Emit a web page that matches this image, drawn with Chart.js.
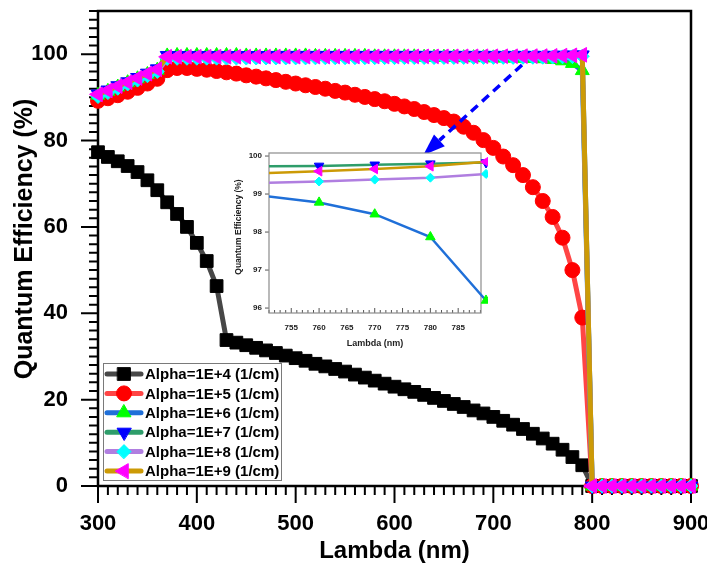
<!DOCTYPE html>
<html>
<head>
<meta charset="utf-8">
<script src="https://cdn.jsdelivr.net/npm/chart.js@4.4.0/dist/chart.umd.min.js"></script>
<style>
  html, body { margin: 0; padding: 0; background: #fff; }
  #wrap { position: relative; width: 707px; height: 567px; }
  #main { position: absolute; left: 0; top: 0; }
  #inset { position: absolute; left: 230px; top: 140px; }
</style>
</head>
<body>
<div id="wrap">
  <canvas id="main" width="707" height="567" style="width:707px;height:567px"></canvas>
  <canvas id="inset" width="270" height="222" style="width:270px;height:222px"></canvas>
</div>
<script>
// wavelength (nm)
const lambda = [300, 310, 320, 330, 340, 350, 360, 370, 380, 390,
                400, 410, 420, 430, 440, 450, 460, 470, 480, 490,
                500, 510, 520, 530, 540, 550, 560, 570, 580, 590,
                600, 610, 620, 630, 640, 650, 660, 670, 680, 690,
                700, 710, 720, 730, 740, 750, 760, 770, 780, 790,
                800, 810, 820, 830, 840, 850, 860, 870, 880, 890, 900];

// quantum efficiency (%) for each absorption coefficient
const qe1e4 = [77.3, 76.2, 75.2, 74.1, 72.7, 70.8, 68.5, 65.7, 63.0, 60.0,
               56.3, 52.1, 46.3, 33.8, 33.2, 32.6, 32.0, 31.4, 30.8, 30.2,
               29.6, 29.0, 28.3, 27.7, 27.1, 26.5, 25.8, 25.1, 24.4, 23.7,
               23.0, 22.4, 21.8, 21.1, 20.4, 19.7, 19.0, 18.3, 17.5, 16.8,
               16.0, 15.1, 14.2, 13.2, 12.1, 11.0, 9.8, 8.4, 6.7, 4.8,
               0, 0, 0, 0, 0, 0, 0, 0, 0, 0, 0];
const qe1e5 = [89.2, 89.8, 90.5, 91.3, 92.2, 93.2, 94.3, 96.3, 96.8, 96.8,
               96.6, 96.4, 96.1, 95.8, 95.5, 95.1, 94.8, 94.4, 94.0, 93.6,
               93.2, 92.8, 92.4, 92.0, 91.5, 91.1, 90.6, 90.1, 89.6, 89.1,
               88.5, 87.9, 87.3, 86.6, 85.9, 85.2, 84.4, 83.2, 81.8, 80.1,
               78.3, 76.3, 74.3, 72.0, 69.2, 66.0, 62.3, 57.5, 50.0, 39.0,
               0, 0, 0, 0, 0, 0, 0, 0, 0, 0, 0];
const qe1e6 = [90.5, 91.4, 92.4, 93.4, 94.3, 95.3, 96.3, 99.6, 99.7, 99.7,
               99.7, 99.7, 99.7, 99.7, 99.7, 99.6, 99.6, 99.6, 99.6, 99.6,
               99.6, 99.6, 99.5, 99.5, 99.5, 99.5, 99.5, 99.5, 99.4, 99.4,
               99.4, 99.4, 99.4, 99.3, 99.3, 99.3, 99.3, 99.2, 99.2, 99.2,
               99.15, 99.1, 99.1, 99.05, 99.0, 98.95, 98.78, 98.47, 97.87, 96.2,
               0, 0, 0, 0, 0, 0, 0, 0, 0, 0, 0];
const qe1e7 = [90.8, 91.7, 92.7, 93.6, 94.6, 95.6, 96.6, 99.7, 99.70, 99.70,
               99.70, 99.70, 99.70, 99.70, 99.70, 99.70, 99.70, 99.70, 99.71, 99.71,
               99.71, 99.71, 99.71, 99.71, 99.71, 99.71, 99.71, 99.71, 99.72, 99.72,
               99.72, 99.72, 99.72, 99.72, 99.72, 99.72, 99.72, 99.72, 99.72, 99.72,
               99.72, 99.72, 99.72, 99.73, 99.73, 99.73, 99.74, 99.77, 99.80, 99.83,
               0, 0, 0, 0, 0, 0, 0, 0, 0, 0, 0];
const qe1e8 = [90.2, 91.1, 92.1, 93.1, 94.0, 95.0, 96.0, 99.0, 99.05, 99.06,
               99.07, 99.08, 99.08, 99.09, 99.10, 99.10, 99.11, 99.12, 99.12, 99.13,
               99.14, 99.14, 99.15, 99.16, 99.16, 99.17, 99.18, 99.18, 99.19, 99.20,
               99.20, 99.21, 99.21, 99.22, 99.22, 99.23, 99.23, 99.24, 99.24, 99.25,
               99.25, 99.26, 99.26, 99.27, 99.28, 99.29, 99.33, 99.38, 99.43, 99.53,
               0, 0, 0, 0, 0, 0, 0, 0, 0, 0, 0];
const qe1e9 = [90.7, 91.6, 92.6, 93.5, 94.5, 95.5, 96.5, 99.4, 99.40, 99.40,
               99.41, 99.41, 99.42, 99.42, 99.42, 99.43, 99.43, 99.43, 99.44, 99.44,
               99.44, 99.45, 99.45, 99.45, 99.46, 99.46, 99.46, 99.47, 99.47, 99.47,
               99.48, 99.48, 99.48, 99.49, 99.49, 99.49, 99.50, 99.50, 99.50, 99.51,
               99.51, 99.52, 99.52, 99.53, 99.54, 99.55, 99.60, 99.66, 99.73, 99.85,
               0, 0, 0, 0, 0, 0, 0, 0, 0, 0, 0];

const seriesLabels = ['Alpha=1E+4 (1/cm)', 'Alpha=1E+5 (1/cm)', 'Alpha=1E+6 (1/cm)',
                      'Alpha=1E+7 (1/cm)', 'Alpha=1E+8 (1/cm)', 'Alpha=1E+9 (1/cm)'];
const seriesValues = [qe1e4, qe1e5, qe1e6, qe1e7, qe1e8, qe1e9];

// tick labels
const xTicks = [300, 400, 500, 600, 700, 800, 900];
const yTicks = [0, 20, 40, 60, 80, 100];
const insetXTicks = [755, 760, 765, 770, 775, 780, 785];
const insetYTicks = [96, 97, 98, 99, 100];

// inset shows the 1E+6 .. 1E+9 curves from 750 to 790 nm
const insetFrom = lambda.indexOf(750);
const insetTo = lambda.indexOf(790);
const insetSeries = [2, 3, 4, 5];

// arrow from the plateau to the inset (data units of the main plot)
const arrowFrom = [729, 97.5];
const arrowTo = [629, 76.6];

// styles
const FONT = "'Liberation Sans', Arial, Helvetica, sans-serif";
const lineColors = ['#474747', '#ff4545', '#1f6fd8', '#2e9d6a', '#b07ee0', '#cc9a06'];
const markerColors = ['#000000', '#ff0000', '#00ff00', '#0000ff', '#00ffff', '#ff00ff'];
const markerStyles = ['rect', 'circle', 'triangle', 'triangle', 'rectRot', 'triangle'];
const markerRotations = [0, 0, 0, 180, 0, 270];
const mainRadius = [9, 7.5, 8, 8, 7, 8.5];
const insetRadius = [0, 0, 5.5, 5.5, 4.5, 5.5];

function isTick(list, v) {
    return list.some(function(t) { return Math.abs(t - v) < 1e-6; });
}

// frame + hand drawn major/minor ticks
function framePlugin(id, cfg) {
    return {
        id: id,
        beforeDatasetsDraw: function(chart) {
            var ctx = chart.ctx, a = chart.chartArea;
            var x = chart.scales.x, y = chart.scales.y;
            ctx.save();
            if (cfg.fill) {
                ctx.fillStyle = cfg.fill;
                ctx.fillRect(a.left, a.top, a.right - a.left, a.bottom - a.top);
            }
            ctx.strokeStyle = cfg.color;
            ctx.lineWidth = cfg.tickWidth;
            ctx.beginPath();
            var k, v, p, len;
            for (k = Math.ceil(x.min / cfg.xMinor - 1e-9); k <= Math.floor(x.max / cfg.xMinor + 1e-9); k++) {
                v = k * cfg.xMinor;
                p = x.getPixelForValue(v);
                len = isTick(cfg.xMajor, v) ? cfg.xMajorLen : cfg.xMinorLen;
                ctx.moveTo(p, a.bottom);
                ctx.lineTo(p, a.bottom + (cfg.xOut ? len : -len));
            }
            for (k = Math.ceil(y.min / cfg.yMinor - 1e-9); k <= Math.floor(y.max / cfg.yMinor + 1e-9); k++) {
                v = k * cfg.yMinor;
                p = y.getPixelForValue(v);
                len = isTick(cfg.yMajor, v) ? cfg.yMajorLen : cfg.yMinorLen;
                ctx.moveTo(a.left, p);
                ctx.lineTo(a.left - len, p);
            }
            ctx.stroke();
            ctx.lineWidth = cfg.frameWidth;
            ctx.strokeStyle = cfg.frameColor;
            ctx.strokeRect(a.left, a.top, a.right - a.left, a.bottom - a.top);
            ctx.restore();
        },
        afterDraw: function(chart) {
            // rotated y title, placed like the original (a bit above the axis centre)
            var ctx = chart.ctx;
            ctx.save();
            ctx.translate(cfg.yTitle.x, cfg.yTitle.y);
            ctx.rotate(-Math.PI / 2);
            ctx.fillStyle = cfg.yTitle.color;
            ctx.font = cfg.yTitle.font;
            ctx.textAlign = 'center';
            ctx.textBaseline = 'middle';
            ctx.fillText(cfg.yTitle.text, 0, 0);
            ctx.restore();
        }
    };
}

function drawMarker(ctx, i, radius, px, py) {
    ctx.fillStyle = markerColors[i];
    ctx.strokeStyle = markerColors[i];
    ctx.lineWidth = 1;
    Chart.helpers.drawPoint(ctx, {
        pointStyle: markerStyles[i],
        rotation: markerRotations[i],
        radius: radius,
        borderWidth: 1
    }, px, py);
}

const legendPlugin = {
    id: 'qeLegend',
    afterDraw: function(chart) {
        var ctx = chart.ctx;
        var left = 103, top = 363, w = 178, h = 117;
        ctx.save();
        ctx.fillStyle = '#fff';
        ctx.fillRect(left, top, w, h);
        ctx.strokeStyle = '#7a7a7a';
        ctx.lineWidth = 1;
        ctx.strokeRect(left + 0.5, top + 0.5, w, h);
        for (var i = 0; i < seriesLabels.length; i++) {
            var yy = top + 11 + i * 19.4;
            ctx.strokeStyle = lineColors[i];
            ctx.lineWidth = 5;
            ctx.lineCap = 'round';
            ctx.beginPath();
            ctx.moveTo(left + 4, yy);
            ctx.lineTo(left + 38, yy);
            ctx.stroke();
            drawMarker(ctx, i, mainRadius[i], left + 21, yy);
            ctx.fillStyle = '#000';
            ctx.font = 'bold 15px ' + FONT;
            ctx.textAlign = 'left';
            ctx.textBaseline = 'middle';
            ctx.fillText(seriesLabels[i], left + 42, yy + 1);
        }
        ctx.restore();
    }
};

const arrowPlugin = {
    id: 'qeArrow',
    afterDatasetsDraw: function(chart) {
        var ctx = chart.ctx, x = chart.scales.x, y = chart.scales.y;
        var x0 = x.getPixelForValue(arrowFrom[0]), y0 = y.getPixelForValue(arrowFrom[1]);
        var x1 = x.getPixelForValue(arrowTo[0]), y1 = y.getPixelForValue(arrowTo[1]);
        var dx = x1 - x0, dy = y1 - y0, d = Math.sqrt(dx * dx + dy * dy);
        var ux = dx / d, uy = dy / d, head = 22, half = 8;
        ctx.save();
        ctx.strokeStyle = '#0000ff';
        ctx.fillStyle = '#0000ff';
        ctx.lineWidth = 3.5;
        ctx.setLineDash([9, 6]);
        ctx.beginPath();
        ctx.moveTo(x0, y0);
        ctx.lineTo(x1 - ux * head, y1 - uy * head);
        ctx.stroke();
        ctx.setLineDash([]);
        ctx.beginPath();
        ctx.moveTo(x1, y1);
        ctx.lineTo(x1 - ux * head - uy * half, y1 - uy * head + ux * half);
        ctx.lineTo(x1 - ux * head + uy * half, y1 - uy * head - ux * half);
        ctx.closePath();
        ctx.fill();
        ctx.restore();
    }
};

// Main chart
var mainSets = seriesValues.map(function(vals, i) {
    return {
        label: seriesLabels[i],
        data: lambda.map(function(l, j) { return { x: l, y: vals[j] }; }),
        borderColor: lineColors[i],
        borderWidth: 5,
        backgroundColor: markerColors[i],
        pointBackgroundColor: markerColors[i],
        pointBorderColor: markerColors[i],
        pointBorderWidth: 1,
        pointStyle: markerStyles[i],
        pointRotation: markerRotations[i],
        pointRadius: mainRadius[i],
        pointHoverRadius: mainRadius[i],
        tension: 0,
        fill: false,
        clip: false,
        order: seriesValues.length - i
    };
});

new Chart(document.getElementById('main'), {
    type: 'line',
    data: { datasets: mainSets },
    options: {
        responsive: false,
        animation: false,
        events: [],
        layout: { padding: { top: 11, right: 16, left: 0, bottom: 0 } },
        plugins: { legend: { display: false }, tooltip: { enabled: false } },
        scales: {
            x: {
                type: 'linear',
                min: 300,
                max: 900,
                afterFit: function(s) { s.height = 81; s.paddingLeft = 0; s.paddingRight = 0; },
                grid: { display: false, drawTicks: false, tickLength: 0 },
                border: { display: false },
                ticks: {
                    stepSize: 100,
                    autoSkip: false,
                    maxRotation: 0,
                    padding: 25,
                    color: '#000',
                    font: { family: FONT, size: 22, weight: 'bold' },
                    callback: function(v) { return isTick(xTicks, v) ? String(v) : ''; }
                },
                title: {
                    display: true,
                    text: 'Lambda (nm)',
                    color: '#000',
                    font: { family: FONT, size: 24, weight: 'bold' },
                    padding: { top: 0, bottom: 1 }
                }
            },
            y: {
                type: 'linear',
                min: 0,
                max: 110,
                afterFit: function(s) { s.width = 98; s.paddingTop = 0; s.paddingBottom = 0; },
                grid: { display: false, drawTicks: false, tickLength: 0 },
                border: { display: false },
                ticks: {
                    stepSize: 20,
                    includeBounds: false,
                    autoSkip: false,
                    padding: 30,
                    color: '#000',
                    font: { family: FONT, size: 22, weight: 'bold' },
                    callback: function(v) { return isTick(yTicks, v) ? String(v) : ''; }
                },
                title: { display: false }
            }
        }
    },
    plugins: [
        framePlugin('mainFrame', {
            color: '#000', tickWidth: 2, frameColor: '#000', frameWidth: 2.5,
            xMinor: 10, xMajor: xTicks, xMajorLen: 17, xMinorLen: 9, xOut: true,
            yMinor: 2, yMajor: yTicks, yMajorLen: 17, yMinorLen: 9,
            yTitle: { text: 'Quantum Efficiency (%)', x: 25, y: 239, color: '#000',
                      font: 'bold 25px ' + FONT }
        }),
        arrowPlugin,
        legendPlugin
    ]
});

// Inset chart
var insetSets = insetSeries.map(function(i) {
    var vals = seriesValues[i];
    var pts = [];
    for (var j = insetFrom; j <= insetTo; j++) pts.push({ x: lambda[j], y: vals[j] });
    return {
        label: seriesLabels[i],
        data: pts,
        borderColor: lineColors[i],
        borderWidth: 2.5,
        pointBackgroundColor: markerColors[i],
        pointBorderColor: markerColors[i],
        pointBorderWidth: 1,
        pointStyle: markerStyles[i],
        pointRotation: markerRotations[i],
        pointRadius: insetRadius[i],
        pointHoverRadius: insetRadius[i],
        tension: 0,
        fill: false,
        clip: { left: 0, top: 6, right: 7, bottom: 0 },
        order: seriesValues.length - i
    };
});

new Chart(document.getElementById('inset'), {
    type: 'line',
    data: { datasets: insetSets },
    options: {
        responsive: false,
        animation: false,
        events: [],
        layout: { padding: { top: 13, right: 19, left: 0, bottom: 0 } },
        plugins: { legend: { display: false }, tooltip: { enabled: false } },
        scales: {
            x: {
                type: 'linear',
                min: 751,
                max: 789.1,
                afterFit: function(s) { s.height = 49; s.paddingLeft = 0; s.paddingRight = 0; },
                grid: { display: false, drawTicks: false, tickLength: 0 },
                border: { display: false },
                ticks: {
                    stepSize: 5,
                    includeBounds: false,
                    autoSkip: false,
                    maxRotation: 0,
                    padding: 10,
                    color: '#222',
                    font: { family: FONT, size: 8, weight: 'bold' },
                    callback: function(v) { return isTick(insetXTicks, v) ? String(v) : ''; }
                },
                title: {
                    display: true,
                    text: 'Lambda (nm)',
                    color: '#222',
                    font: { family: FONT, size: 9, weight: 'bold' },
                    padding: { top: 0, bottom: 13 }
                }
            },
            y: {
                type: 'linear',
                min: 95.87,
                max: 100.08,
                afterFit: function(s) { s.width = 39; s.paddingTop = 0; s.paddingBottom = 0; },
                grid: { display: false, drawTicks: false, tickLength: 0 },
                border: { display: false },
                ticks: {
                    stepSize: 1,
                    includeBounds: false,
                    autoSkip: false,
                    padding: 7,
                    color: '#222',
                    font: { family: FONT, size: 8, weight: 'bold' },
                    callback: function(v) { return isTick(insetYTicks, v) ? String(v) : ''; }
                },
                title: { display: false }
            }
        }
    },
    plugins: [
        framePlugin('insetFrame', {
            fill: '#fff', color: '#555', tickWidth: 1, frameColor: '#8c8c8c', frameWidth: 1.2,
            xMinor: 1, xMajor: insetXTicks, xMajorLen: 5, xMinorLen: 3, xOut: false,
            yMinor: 1, yMajor: insetYTicks, yMajorLen: 4, yMinorLen: 4,
            yTitle: { text: 'Quantum Efficiency (%)', x: 9, y: 87, color: '#222',
                      font: 'bold 8.5px ' + FONT }
        })
    ]
});
</script>
</body>
</html>
